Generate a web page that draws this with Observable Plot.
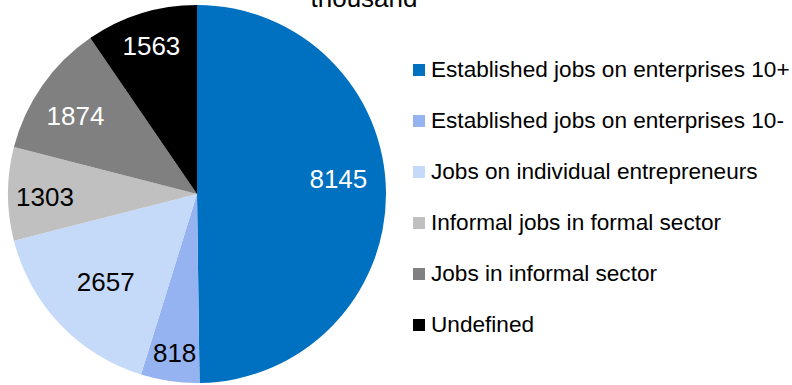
<!DOCTYPE html>
<html>
<head>
<meta charset="utf-8">
<script src="https://cdn.jsdelivr.net/npm/d3@7"></script>
<script src="https://cdn.jsdelivr.net/npm/@observablehq/plot@0.6"></script>
<style>
  html, body { margin: 0; padding: 0; background: #fff; }
  #wrap { position: relative; width: 792px; height: 385px; overflow: hidden; font-family: "Liberation Sans", Arial, sans-serif; }
  #title { position: absolute; left: 250px; width: 228px; top: -15px; height: 26px; line-height: 26px; font-size: 26px; text-align: center; color: #000; white-space: nowrap; }
  #legend { position: absolute; left: 413px; top: 0; }
  .row { position: absolute; left: 0; height: 26px; display: flex; align-items: center; white-space: nowrap; font-size: 22.6px; color: #000; }
  .sw { width: 12px; height: 12px; margin-right: 6px; flex: none; }
  svg { position: absolute; left: 0; top: 0; }
</style>
</head>
<body>
<div id="wrap">
  <div id="title">thousand</div>
  <div id="legend"></div>
</div>
<script>
const categories = [
  "Established jobs on enterprises 10+",
  "Established jobs on enterprises 10-",
  "Jobs on individual entrepreneurs",
  "Informal jobs in formal sector",
  "Jobs in informal sector",
  "Undefined"
];
const values = [8145, 818, 2657, 1303, 1874, 1563];
const colors = ["#0070C0", "#95B3F1", "#C5DAF8", "#C0C0C0", "#808080", "#000000"];

// layout settings for label placement (not data)
const labelRadius = [0.75, 0.845, 0.67, 0.807, 0.77, 0.825];
const labelAngleShift = [-6, 0, 0, -1, -2, 0];

const data = categories.map((c, i) => ({category: c, value: values[i], color: colors[i]}));
const arcs = d3.pie().sort(null).value(d => d.value).startAngle(0).endAngle(2 * Math.PI)(data);
const labels = arcs.map((a, i) => {
  const mid = (a.startAngle + a.endAngle) / 2 + labelAngleShift[i] * Math.PI / 180;
  const lr = labelRadius[i];
  return {
    x: lr * Math.sin(mid),
    y: lr * Math.cos(mid),
    text: String(a.data.value),
    fill: d3.hsl(a.data.color).l < 0.55 ? "#fff" : "#000"
  };
});

function pieMark(index, scales) {
  const cx = scales.x(0), cy = scales.y(0), r = scales.x(1) - scales.x(0);
  const g = d3.create("svg:g").attr("transform", `translate(${cx},${cy})`);
  const arcGen = d3.arc().innerRadius(0).outerRadius(r);
  g.selectAll("path").data(arcs).join("path")
    .attr("d", arcGen)
    .attr("fill", d => d.data.color);
  return g.node();
}

const chart = Plot.plot({
  width: 792,
  height: 385,
  margin: 0,
  x: {domain: [-1, 1], range: [8, 386], axis: null},
  y: {domain: [-1, 1], range: [383, 5], axis: null},
  style: {background: "transparent", fontFamily: "Liberation Sans, Arial, sans-serif", overflow: "visible"},
  marks: [
    pieMark,
    Plot.text(labels, {x: "x", y: "y", text: "text", fill: "fill", fontSize: 26, textAnchor: "middle", dy: 1})
  ]
});
document.getElementById("wrap").insertBefore(chart, document.getElementById("title"));

const legend = document.getElementById("legend");
const rowCenters = [70, 121, 172, 223, 274, 325];
categories.forEach((c, i) => {
  const row = document.createElement("div");
  row.className = "row";
  row.style.top = (rowCenters[i] - 13) + "px";
  const sw = document.createElement("span");
  sw.className = "sw";
  sw.style.background = colors[i];
  const t = document.createElement("span");
  t.textContent = c;
  row.appendChild(sw);
  row.appendChild(t);
  legend.appendChild(row);
});
</script>
</body>
</html>
